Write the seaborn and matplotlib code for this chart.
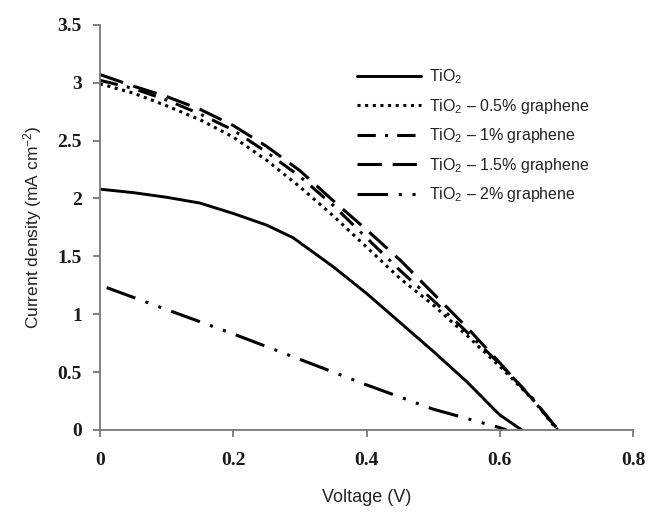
import matplotlib
matplotlib.use("Agg")
import matplotlib.pyplot as plt
import seaborn as sns
import numpy as np
import pandas as pd

# ---- data ----
v_tio2 = [0.0, 0.05, 0.10, 0.15, 0.20, 0.25, 0.29, 0.35, 0.40, 0.45, 0.50, 0.55, 0.60, 0.633]
j_tio2 = [2.08, 2.05, 2.01, 1.96, 1.87, 1.77, 1.66, 1.41, 1.18, 0.93, 0.68, 0.42, 0.13, 0.0]

v_05 = [0.0, 0.05, 0.10, 0.15, 0.20, 0.25, 0.30, 0.35, 0.40, 0.45, 0.50, 0.55, 0.60, 0.65, 0.686]
j_05 = [2.99, 2.91, 2.80, 2.68, 2.53, 2.33, 2.10, 1.85, 1.58, 1.31, 1.08, 0.82, 0.55, 0.26, 0.0]

v_1 = [0.0, 0.05, 0.10, 0.15, 0.20, 0.25, 0.30, 0.35, 0.40, 0.45, 0.50, 0.55, 0.60, 0.65, 0.687]
j_1 = [3.02, 2.95, 2.85, 2.73, 2.59, 2.40, 2.19, 1.94, 1.66, 1.38, 1.12, 0.85, 0.57, 0.27, 0.0]

v_15 = [0.0, 0.05, 0.10, 0.15, 0.20, 0.25, 0.30, 0.35, 0.40, 0.45, 0.50, 0.55, 0.60, 0.65, 0.688]
j_15 = [3.07, 2.97, 2.88, 2.77, 2.63, 2.45, 2.24, 1.98, 1.73, 1.47, 1.18, 0.89, 0.58, 0.26, 0.0]

v_2 = [0.01, 0.10, 0.20, 0.30, 0.40, 0.50, 0.60, 0.61]
j_2 = [1.23, 1.04, 0.83, 0.61, 0.39, 0.18, 0.02, 0.0]

labels = ["TiO$_2$", "TiO$_2$ – 0.5% graphene", "TiO$_2$ – 1% graphene",
          "TiO$_2$ – 1.5% graphene", "TiO$_2$ – 2% graphene"]
x_ticks = [0, 0.2, 0.4, 0.6, 0.8]
x_ticklabels = ["0", "0.2", "0.4", "0.6", "0.8"]
y_ticks = [0, 0.5, 1, 1.5, 2, 2.5, 3, 3.5]
y_ticklabels = ["0", "0.5", "1", "1.5", "2", "2.5", "3", "3.5"]

sns.set_theme(style="white")
plt.rcParams["font.family"] = ["Liberation Sans", "DejaVu Sans"]
plt.rcParams["mathtext.fontset"] = "custom"
plt.rcParams["mathtext.rm"] = "Liberation Sans"
plt.rcParams["mathtext.it"] = "Liberation Sans:italic"
plt.rcParams["mathtext.bf"] = "Liberation Sans:bold"

fig = plt.figure(figsize=(6.51, 5.16), dpi=100)
ax = fig.add_axes([0.1536, 0.1667, 0.8188, 0.7853])

series = [
    (v_tio2, j_tio2, "-", 2.1),
    (v_05, j_05, (0, (1, 1.5)), 2.2),
    (v_1, j_1, (0, (6, 3, 1, 3)), 2.2),
    (v_15, j_15, (0, (8, 3.5)), 2.2),
    (v_2, j_2, (0, (10, 3.5, 1, 3.5, 1, 3.5)), 2.2),
]
for (xv, yv, ls, lw), lab in zip(series, labels):
    sns.lineplot(x=xv, y=yv, ax=ax, color="black", linestyle=ls, linewidth=lw,
                 label=lab, sort=False, estimator=None)

ax.set_xlim(0, 0.8)
ax.set_ylim(0, 3.5)
ax.set_xticks(x_ticks)
ax.set_xticklabels(x_ticklabels)
ax.set_yticks(y_ticks)
ax.set_yticklabels(y_ticklabels)
for t in ax.get_xticklabels() + ax.get_yticklabels():
    t.set_fontfamily("Liberation Serif")
    t.set_fontweight("bold")
    t.set_fontsize(14)
    t.set_color("#1a1a1a")

sns.despine(ax=ax)
for s in ["left", "bottom"]:
    ax.spines[s].set_color("#777777")
    ax.spines[s].set_linewidth(1.3)
ax.tick_params(axis="y", direction="out", length=5, width=1.3, color="#777777",
               pad=8, left=True)
ax.tick_params(axis="x", direction="out", length=5, width=1.3, color="#777777",
               pad=11, bottom=True)

ax.set_xlabel("Voltage (V)", fontsize=13, color="#222222", labelpad=14)
ax.set_ylabel("Current density (mA cm$^{-2}$)", fontsize=12.5, color="#222222", labelpad=10)

leg = ax.legend(frameon=False, loc="upper left", bbox_to_anchor=(0.455, 0.93),
                fontsize=11.5, handlelength=4.0, handletextpad=0.5, labelspacing=0.66)
for t in leg.get_texts():
    t.set_color("#222222")

fig.savefig("out.png", dpi=100)
